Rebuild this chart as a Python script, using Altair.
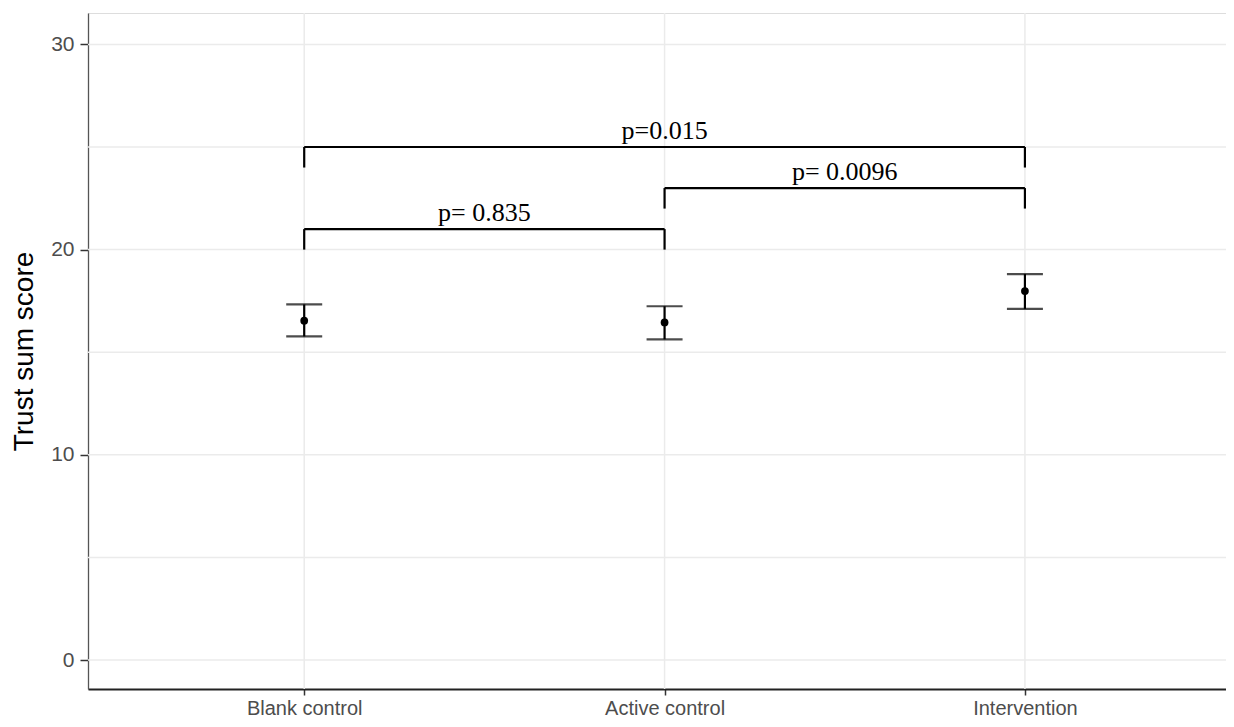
import json
import altair as alt
import pandas as pd

categories = ["Blank control", "Active control", "Intervention"]
means = [16.54, 16.45, 17.98]
lower = [15.77, 15.63, 17.11]
upper = [17.33, 17.24, 18.81]

cmp_from = [1, 2, 1]
cmp_to = [3, 3, 2]
cmp_level = [25.0, 23.0, 21.0]
cmp_leg = [24.0, 22.0, 20.0]
cmp_label = ["p=0.015", "p= 0.0096", "p= 0.835"]

y_ticks = [0, 10, 20, 30]
y_grid = [0, 5, 10, 15, 20, 25, 30]

df = pd.DataFrame({"pos": [1, 2, 3], "group": categories, "mean": means,
                   "lo": lower, "hi": upper})
cmp = pd.DataFrame({"x1": cmp_from, "x2": cmp_to, "y": cmp_level,
                    "yleg": cmp_leg, "label": cmp_label})
cmp["xm"] = (cmp["x1"] + cmp["x2"]) / 2
gy = pd.DataFrame({"v": y_grid})
gx = pd.DataFrame({"v": [1, 2, 3]})

xs = alt.Scale(domain=[0.4, 3.558], nice=False, zero=False)
ys = alt.Scale(domain=[-1.41, 31.53], nice=False, zero=False)

label_expr = json.dumps(categories) + "[datum.value - 1]"

xaxis = alt.Axis(values=[1, 2, 3], labelExpr=label_expr, title=None, grid=False,
                 labelFontSize=20, labelColor="#4d4d4d", labelFont="Liberation Sans",
                 labelPadding=3, tickColor="#333333", tickSize=6, tickWidth=1.5,
                 domainColor="#222222", domainWidth=2.2)
yaxis = alt.Axis(values=y_ticks, title="Trust sum score", grid=False,
                 labelFontSize=21, labelColor="#4d4d4d", labelFont="Liberation Sans",
                 labelPadding=6, tickColor="#333333", tickSize=8, tickWidth=1.5,
                 domainColor="#555555", domainWidth=1.3,
                 titleFontSize=28, titleFont="Liberation Sans", titleFontWeight="normal",
                 titleColor="#000000", titlePadding=12)

grid_y = alt.Chart(gy).mark_rule(color="#ebebeb", strokeWidth=1.5).encode(
    y=alt.Y("v:Q", scale=ys, axis=yaxis))
grid_x = alt.Chart(gx).mark_rule(color="#ebebeb", strokeWidth=1.5).encode(
    x=alt.X("v:Q", scale=xs, axis=xaxis))

base = alt.Chart(df)
err = base.mark_rule(color="black", strokeWidth=2.2).encode(
    x=alt.X("pos:Q", scale=xs), y=alt.Y("lo:Q", scale=ys), y2="hi:Q")
cap_lo = base.mark_tick(color="black", orient="horizontal", size=36, thickness=2.2).encode(
    x=alt.X("pos:Q", scale=xs), y=alt.Y("lo:Q", scale=ys))
cap_hi = base.mark_tick(color="black", orient="horizontal", size=36, thickness=2.2).encode(
    x=alt.X("pos:Q", scale=xs), y=alt.Y("hi:Q", scale=ys))
pts = base.mark_circle(color="black", opacity=1, size=60).encode(
    x=alt.X("pos:Q", scale=xs), y=alt.Y("mean:Q", scale=ys))

cbase = alt.Chart(cmp)
bar = cbase.mark_rule(color="black", strokeWidth=2.2).encode(
    x=alt.X("x1:Q", scale=xs), x2="x2:Q", y=alt.Y("y:Q", scale=ys))
leg1 = cbase.mark_rule(color="black", strokeWidth=2.2).encode(
    x=alt.X("x1:Q", scale=xs), y=alt.Y("yleg:Q", scale=ys), y2="y:Q")
leg2 = cbase.mark_rule(color="black", strokeWidth=2.2).encode(
    x=alt.X("x2:Q", scale=xs), y=alt.Y("yleg:Q", scale=ys), y2="y:Q")
txt = cbase.mark_text(font="Liberation Serif", fontSize=26, color="black",
                      baseline="alphabetic", dy=-8).encode(
    x=alt.X("xm:Q", scale=xs), y=alt.Y("y:Q", scale=ys), text="label:N")

chart = alt.layer(grid_y, grid_x, err, cap_lo, cap_hi, pts, bar, leg1, leg2, txt).properties(
    width=1138, height=676,
    autosize=alt.AutoSizeParams(type="none"),
    padding={"left": 80, "top": 5, "right": 0, "bottom": 30},
).configure_view(stroke="#555555", strokeWidth=1.3).configure(background="white")

chart.save("out.html", embed_options={"renderer": "svg", "actions": False})
